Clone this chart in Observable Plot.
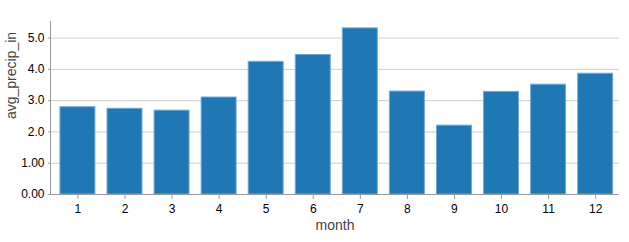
<!DOCTYPE html>
<html>
<head>
<meta charset="utf-8">
<script src="https://cdn.jsdelivr.net/npm/d3@7"></script>
<script src="https://cdn.jsdelivr.net/npm/@observablehq/plot@0.6"></script>
<style>
  html, body { margin: 0; padding: 0; background: #fff; }
  #chart svg { display: block; }
</style>
</head>
<body>
<div id="chart"></div>
<script>
const months = [1, 2, 3, 4, 5, 6, 7, 8, 9, 10, 11, 12];
const avgPrecip = [2.79, 2.74, 2.68, 3.10, 4.24, 4.46, 5.31, 3.29, 2.20, 3.28, 3.51, 3.86];
const yTicks = [0, 1, 2, 3, 4, 5];
const yTickLabels = ["0.00", "1.00", "2.0", "3.0", "4.0", "5.0"];
const xTitle = "month";
const yTitle = "avg_precip_in";

const data = months.map((m, i) => ({month: m, avg_precip_in: avgPrecip[i]}));

const chart = Plot.plot({
  width: 629,
  height: 242,
  marginLeft: 50,
  marginRight: 10,
  marginTop: 21,
  marginBottom: 48,
  style: {fontFamily: "Arial, 'Liberation Sans', sans-serif", fontSize: "12px", color: "#000", background: "#fff"},
  x: {type: "band", domain: months, paddingInner: 0.257, paddingOuter: 0.173, align: 0.61, round: false},
  y: {domain: [0, 5.53]},
  marks: [
    Plot.gridY(yTicks, {stroke: "#cfcfcf", strokeOpacity: 1}),
    Plot.barY(data, {x: "month", y: "avg_precip_in", fill: "#1f77b4", stroke: "#6fa8dc", strokeWidth: 1}),
    Plot.frame({anchor: "left", stroke: "#999"}),
    Plot.ruleY([0], {stroke: "#999"}),
    Plot.axisY({ticks: yTicks, tickFormat: (d, i) => yTickLabels[yTicks.indexOf(d)], tickSize: 2, tickPadding: 4, stroke: "#999", label: null, fill: "#000"}),
    Plot.axisX({tickSize: 5, tickPadding: 5, stroke: "#999", label: null, fill: "#000"}),
    Plot.text([xTitle], {frameAnchor: "bottom", dy: 35, lineAnchor: "bottom", textAnchor: "middle", fontSize: 14, fill: "#444"}),
    Plot.text([yTitle], {frameAnchor: "left", rotate: -90, dx: -35, dy: -32.5, lineAnchor: "bottom", textAnchor: "middle", fontSize: 14, fill: "#444"})
  ]
});
document.getElementById("chart").appendChild(chart);
</script>
</body>
</html>
